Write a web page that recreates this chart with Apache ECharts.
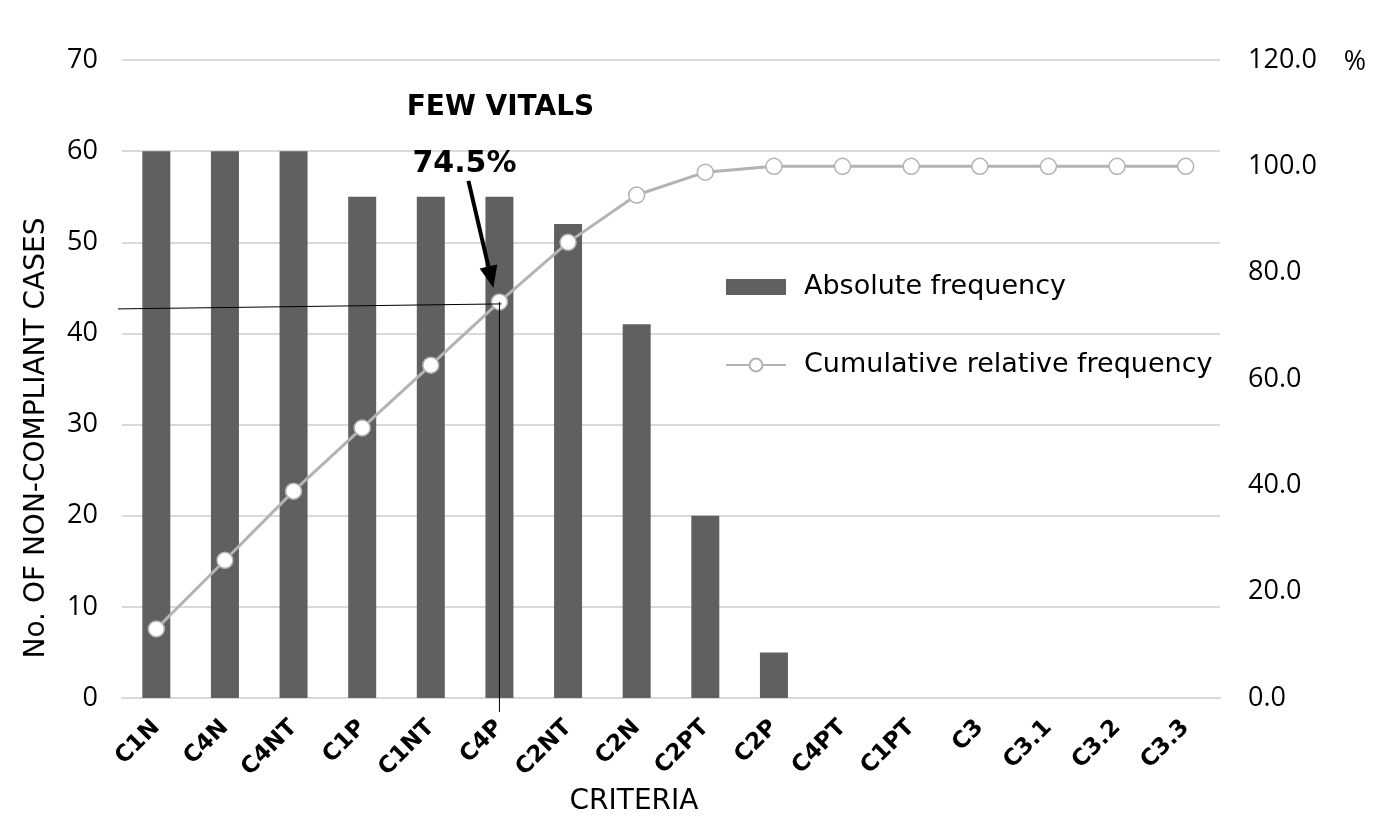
<!DOCTYPE html>
<html><head><meta charset="utf-8">
<script src="https://cdn.jsdelivr.net/npm/echarts@6/dist/echarts.min.js"></script>
<style>html,body{margin:0;padding:0;background:#fff}#c{width:1385px;height:824px}</style>
</head><body><div id="c"></div>
<script>
const categories = ['C1N','C4N','C4NT','C1P','C1NT','C4P','C2NT','C2N','C2PT','C2P','C4PT','C1PT','C3','C3.1','C3.2','C3.3'];
const absoluteFrequency = [60,60,60,55,55,55,52,41,20,5,0,0,0,0,0,0];
const cumulativePercent = [13.0,25.9,38.9,50.8,62.6,74.5,85.7,94.6,98.9,100.0,100.0,100.0,100.0,100.0,100.0,100.0];
const leftTicks = {min:0, max:70, interval:10};
const rightTicks = {min:0, max:120, interval:20};
const highlightIndex = 5;

const chart = echarts.init(document.getElementById('c'));
const G = {left:122, right:165, top:60, bottom:126};
chart.setOption({
  animation:false,
  grid:{left:G.left, right:G.right, top:G.top, bottom:G.bottom},
  legend:{
    orient:'vertical', left:725, top:272, padding:0, itemGap:48, itemWidth:60, itemHeight:16,
    textStyle:{fontFamily:'DejaVu Sans', fontSize:27, lineHeight:30, color:'#000', padding:[0,0,0,13]},
    data:[{name:'Absolute frequency', icon:'rect'},{name:'Cumulative relative frequency'}]
  },
  xAxis:{
    type:'category', data:categories,
    axisLine:{lineStyle:{color:'#d9d9d9', width:2}},
    axisTick:{show:false},
    axisLabel:{rotate:45, interval:0, margin:26, fontFamily:'DejaVu Sans', fontWeight:'bold', fontSize:23, color:'#000'}
  },
  yAxis:[{
    type:'value', min:leftTicks.min, max:leftTicks.max, interval:leftTicks.interval,
    axisLabel:{fontFamily:'Open Sans', fontSize:27, color:'#000', margin:24},
    axisLine:{show:false}, axisTick:{show:false},
    splitLine:{lineStyle:{color:'#d9d9d9', width:2}}
  },{
    type:'value', min:rightTicks.min, max:rightTicks.max, interval:rightTicks.interval,
    position:'right',
    axisLabel:{fontFamily:'Open Sans', fontSize:27, color:'#000', margin:28, formatter:v=>v.toFixed(1)},
    axisLine:{show:false}, axisTick:{show:false}, splitLine:{show:false}
  }],
  series:[{
    name:'Absolute frequency', type:'bar', data:absoluteFrequency, barWidth:28,
    itemStyle:{color:'#606060'}, yAxisIndex:0
  },{
    name:'Cumulative relative frequency', type:'line', data:cumulativePercent, yAxisIndex:1,
    symbol:'circle', symbolSize:16,
    lineStyle:{color:'#b3b3b3', width:3},
    itemStyle:{color:'#fff', borderColor:'#b3b3b3', borderWidth:1.5}, z:5
  }]
});

const pt = chart.convertToPixel({xAxisIndex:0, yAxisIndex:1}, [highlightIndex, cumulativePercent[highlightIndex]]);
const yBase = chart.convertToPixel({yAxisIndex:0}, 0);
const ax = pt[0]-31, ay = pt[1]-121;
const tipX = pt[0]-6, tipY = pt[1]-14;
const ang = Math.atan2(tipY-ay, tipX-ax);
const hl = 22, hw = 9;
const bx = tipX - hl*Math.cos(ang), by = tipY - hl*Math.sin(ang);
chart.setOption({
  graphic:[
    {type:'line', shape:{x1:G.left-4, y1:pt[1]+7, x2:pt[0]+2, y2:pt[1]+2}, style:{stroke:'#000', lineWidth:1}, z:10},
    {type:'line', shape:{x1:pt[0], y1:pt[1], x2:pt[0], y2:yBase+14}, style:{stroke:'#000', lineWidth:1}, z:10},
    {type:'line', shape:{x1:ax, y1:ay, x2:bx, y2:by}, style:{stroke:'#000', lineWidth:4}, z:10},
    {type:'polygon', shape:{points:[[tipX,tipY],[bx+hw*Math.sin(ang), by-hw*Math.cos(ang)],[bx-hw*Math.sin(ang), by+hw*Math.cos(ang)]]}, style:{fill:'#000'}, z:10},
    {type:'text', x:pt[0]+1, y:108, style:{text:'FEW VITALS', font:'bold 28px "DejaVu Sans"', fill:'#000', textAlign:'center', textVerticalAlign:'middle'}, z:10},
    {type:'text', x:pt[0]-35, y:164, style:{text:'74.5%', font:'bold 30px "DejaVu Sans"', fill:'#000', textAlign:'center', textVerticalAlign:'middle'}, z:10},
    {type:'text', x:37, y:438, rotation:Math.PI/2, style:{text:'No. OF NON-COMPLIANT CASES', font:'28px "DejaVu Sans"', fill:'#000', textAlign:'center', textVerticalAlign:'middle'}},
    {type:'text', x:634, y:802, style:{text:'CRITERIA', font:'28px "DejaVu Sans"', fill:'#000', textAlign:'center', textVerticalAlign:'middle'}},
    {type:'text', x:1355, y:62, style:{text:'%', font:'27px "Open Sans"', fill:'#000', textAlign:'center', textVerticalAlign:'middle'}}
  ]
});
</script></body></html>
